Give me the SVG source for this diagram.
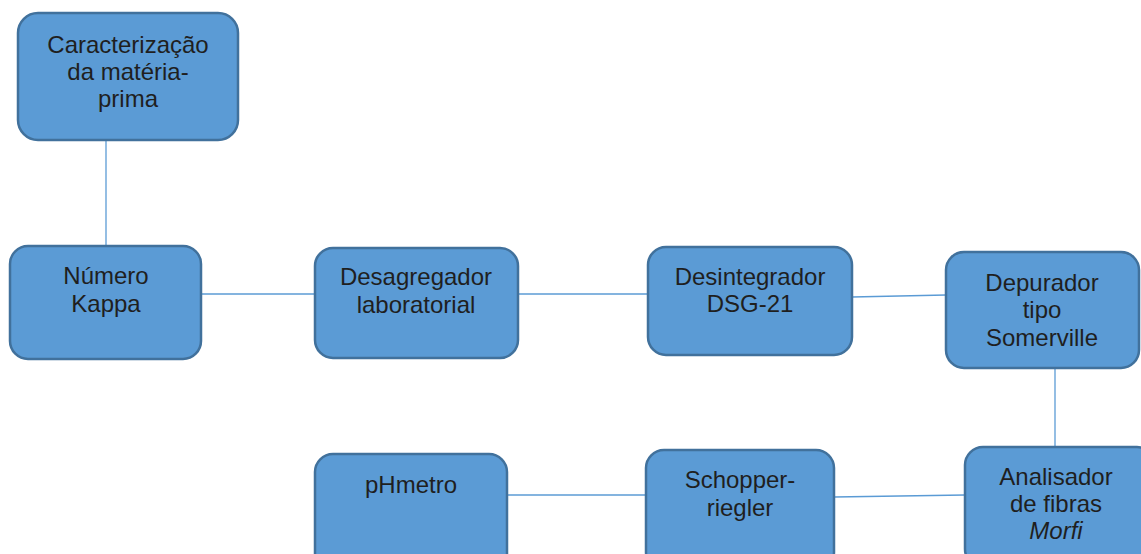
<svg xmlns="http://www.w3.org/2000/svg" width="1141" height="554" viewBox="0 0 1141 554">
<style>
.box{fill:#5B9BD5;stroke:#41719C;stroke-width:2.5}
.t{font-family:"Liberation Sans",Arial,sans-serif;font-size:24px;fill:#1f1f1f;text-anchor:middle}
.c{stroke:#5B9BD5;stroke-width:1.3;fill:none}
</style>
<rect width="1141" height="554" fill="#fff"/>
<g id="connectors">
<line class="c" x1="106" y1="140" x2="106" y2="246"/>
<line class="c" x1="201" y1="294" x2="315" y2="294"/>
<line class="c" x1="518" y1="294" x2="648" y2="294"/>
<line class="c" x1="852" y1="297" x2="946" y2="295"/>
<line class="c" x1="1055" y1="368" x2="1055" y2="447"/>
<line class="c" x1="834" y1="497" x2="965" y2="495"/>
<line class="c" x1="507" y1="495" x2="646" y2="495"/>
</g>
<g id="caracterizacao">
<rect class="box" x="18" y="13" width="220" height="127" rx="20"/>
<text class="t" x="128" y="53">Caracterização</text>
<text class="t" x="128" y="80">da matéria-</text>
<text class="t" x="128" y="107">prima</text>
</g>
<g id="numero-kappa">
<rect class="box" x="10" y="246" width="191" height="113" rx="18"/>
<text class="t" x="106" y="284">Número</text>
<text class="t" x="106" y="312">Kappa</text>
</g>
<g id="desagregador">
<rect class="box" x="315" y="248" width="203" height="110" rx="18"/>
<text class="t" x="416" y="285">Desagregador</text>
<text class="t" x="416" y="313">laboratorial</text>
</g>
<g id="desintegrador">
<rect class="box" x="648" y="247" width="204" height="108" rx="18"/>
<text class="t" x="750" y="285">Desintegrador</text>
<text class="t" x="750" y="312">DSG-21</text>
</g>
<g id="depurador">
<rect class="box" x="946" y="252" width="193" height="116" rx="18"/>
<text class="t" x="1042" y="291">Depurador</text>
<text class="t" x="1042" y="318">tipo</text>
<text class="t" x="1042" y="346">Somerville</text>
</g>
<g id="analisador">
<rect class="box" x="965" y="447" width="190" height="120" rx="18"/>
<text class="t" x="1056" y="485">Analisador</text>
<text class="t" x="1056" y="512">de fibras</text>
<text class="t" x="1056" y="539" font-style="italic">Morfi</text>
</g>
<g id="schopper">
<rect class="box" x="646" y="450" width="188" height="120" rx="18"/>
<text class="t" x="740" y="488">Schopper-</text>
<text class="t" x="740" y="516">riegler</text>
</g>
<g id="phmetro">
<rect class="box" x="315" y="454" width="192" height="120" rx="18"/>
<text class="t" x="411" y="493">pHmetro</text>
</g>
</svg>
